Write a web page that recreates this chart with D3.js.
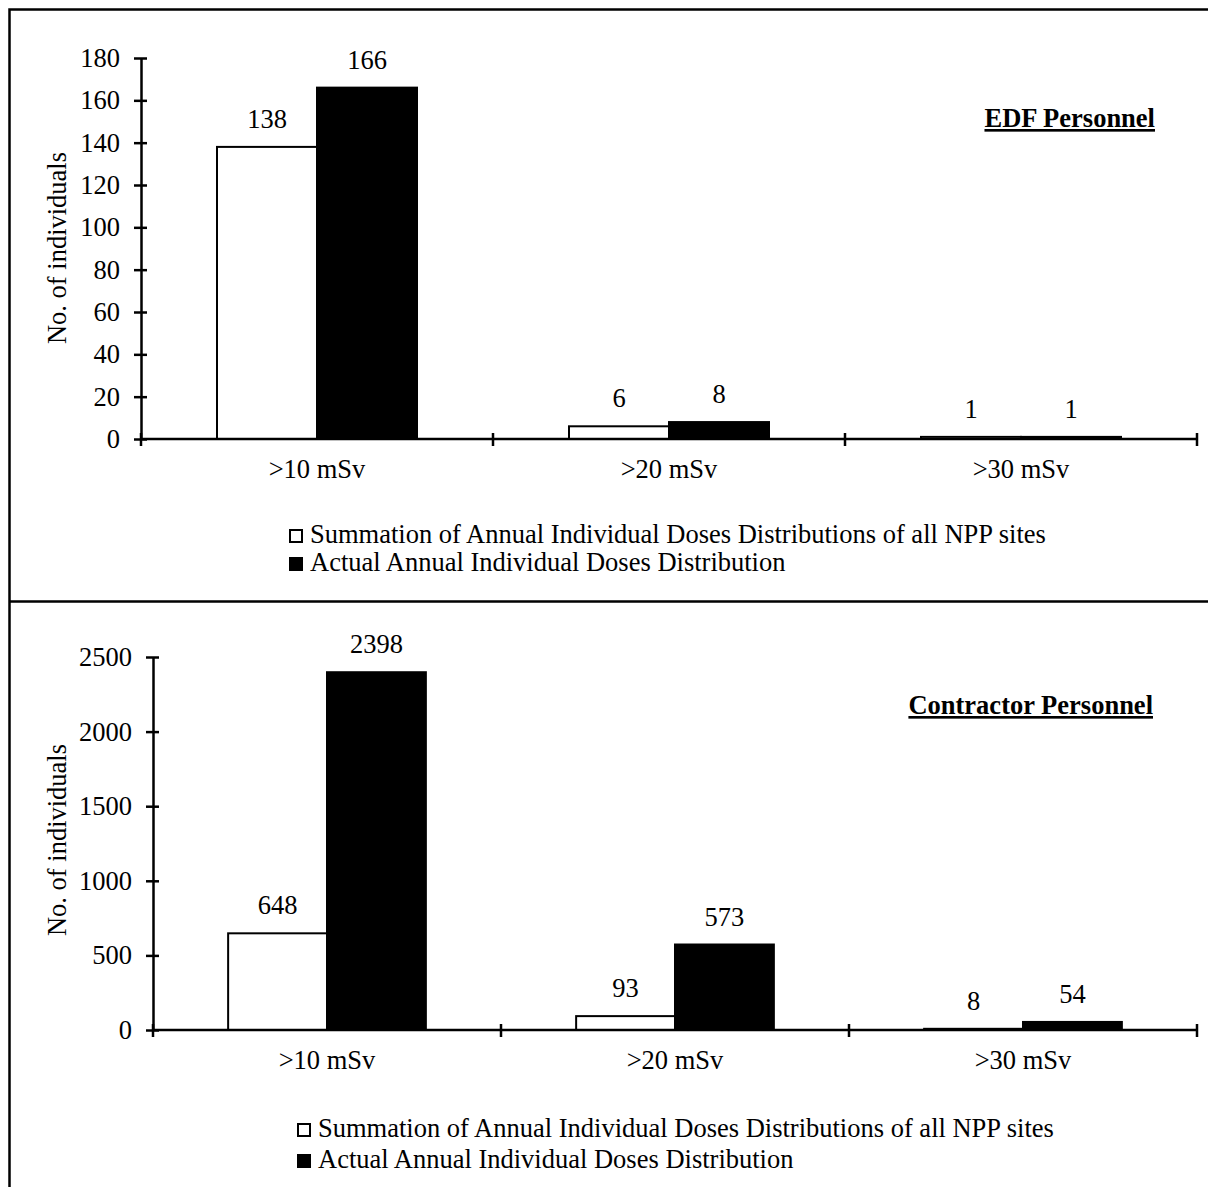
<!DOCTYPE html>
<html>
<head>
<meta charset="utf-8">
<script src="https://cdn.jsdelivr.net/npm/d3@7"></script>
<style>
  body { margin: 0; background: #fff; }
  text { font-family: "Liberation Serif", "Times New Roman", serif; fill: #000; }
</style>
</head>
<body>
<svg id="chart" width="1208" height="1187"></svg>
<script>
// categories and series
const categories = [">10 mSv", ">20 mSv", ">30 mSv"];
const seriesNames = [
    "Summation of Annual Individual Doses Distributions of all NPP sites",
    "Actual Annual Individual Doses Distribution"
];

// EDF personnel
const edfSummation = [138, 6, 1];
const edfActual = [166, 8, 1];
const edfTicks = [0, 20, 40, 60, 80, 100, 120, 140, 160, 180];

// Contractor personnel
const contractorSummation = [648, 93, 8];
const contractorActual = [2398, 573, 54];
const contractorTicks = [0, 500, 1000, 1500, 2000, 2500];

const svg = d3.select("#chart");
const fontSize = 26.5;

// frame: outer border + divider
svg.append("rect").attr("width", 1208).attr("height", 1187).attr("fill", "white");
svg.append("path")
    .attr("d", "M9.5,1187 V9.5 H1208 M9.5,601.5 H1208")
    .attr("fill", "none")
    .attr("stroke", "black")
    .attr("stroke-width", 2.5);

function drawPanel(opt) {
    const g = svg.append("g");

    const x = d3.scaleBand()
        .domain(categories)
        .range([opt.left, opt.right]);

    // two bars of ~100px inside each band, centered
    const x1 = d3.scaleBand()
        .domain([0, 1])
        .range([0, x.bandwidth()])
        .paddingOuter(0.76);

    const y = d3.scaleLinear()
        .domain([0, opt.ticks[opt.ticks.length - 1]])
        .range([opt.bottom, opt.top]);

    // y axis
    const yAxis = g.append("g")
        .attr("transform", `translate(${opt.left},0)`)
        .call(d3.axisLeft(y).tickValues(opt.ticks).tickFormat(d3.format("d"))
            .tickSize(7).tickPadding(14).tickSizeOuter(0));
    yAxis.select(".domain").attr("stroke-width", 2.5);
    yAxis.selectAll(".tick line").attr("x1", 6).attr("stroke-width", 2.5);
    yAxis.selectAll(".tick text")
        .style("font-size", fontSize + "px")
        .attr("fill", "black");

    // bars
    const rows = categories.map((c, i) => ({ cat: c, vals: [opt.summation[i], opt.actual[i]] }));
    const groups = g.selectAll("g.cat")
        .data(rows)
        .enter()
        .append("g")
        .attr("class", "cat")
        .attr("transform", d => `translate(${x(d.cat)},0)`);

    groups.selectAll("rect")
        .data(d => d.vals.map((v, k) => ({ k: k, v: v })))
        .enter()
        .append("rect")
        .attr("x", d => x1(d.k))
        .attr("width", x1.bandwidth())
        .attr("y", d => y(d.v))
        .attr("height", d => y(0) - y(d.v))
        .attr("fill", d => d.k === 0 ? "white" : "black")
        .attr("stroke", "black")
        .attr("stroke-width", 2);

    // value labels
    groups.selectAll("text.val")
        .data(d => d.vals.map((v, k) => ({ k: k, v: v })))
        .enter()
        .append("text")
        .attr("class", "val")
        .attr("x", d => x1(d.k) + x1.bandwidth() / 2)
        .attr("y", d => y(d.v) - 19)
        .attr("text-anchor", "middle")
        .style("font-size", fontSize + "px")
        .text(d => d.v);

    // x axis: line, ticks on band boundaries, labels in centers
    g.append("line")
        .attr("x1", opt.left).attr("x2", opt.right)
        .attr("y1", y(0)).attr("y2", y(0))
        .attr("stroke", "black").attr("stroke-width", 2.5);

    const bounds = categories.map(c => x(c)).concat([opt.right]);
    g.selectAll("line.xtick")
        .data(bounds)
        .enter()
        .append("line")
        .attr("class", "xtick")
        .attr("x1", d => d).attr("x2", d => d)
        .attr("y1", y(0) - 6).attr("y2", y(0) + 7)
        .attr("stroke", "black").attr("stroke-width", 2.5);

    g.selectAll("text.xlab")
        .data(categories)
        .enter()
        .append("text")
        .attr("class", "xlab")
        .attr("x", d => x(d) + x.bandwidth() / 2)
        .attr("y", y(0) + 39)
        .attr("text-anchor", "middle")
        .style("font-size", fontSize + "px")
        .text(d => d);

    // y axis title
    g.append("text")
        .attr("transform", `translate(66,${opt.labelY}) rotate(-90)`)
        .attr("text-anchor", "middle")
        .style("font-size", fontSize + "px")
        .text("No. of individuals");

    // panel title
    g.append("text")
        .attr("x", opt.titleX)
        .attr("y", opt.titleY)
        .attr("text-anchor", "end")
        .style("font-size", fontSize + "px")
        .style("font-weight", "bold")
        .style("text-decoration", "underline")
        .text(opt.title);

    // legend
    const legend = g.selectAll("g.legend")
        .data(seriesNames)
        .enter()
        .append("g")
        .attr("class", "legend")
        .attr("transform", (d, i) => `translate(${opt.legendX},${opt.legendY + i * opt.legendStep})`);

    legend.append("rect")
        .attr("x", 0).attr("y", -13)
        .attr("width", 12).attr("height", 12)
        .attr("fill", (d, i) => i === 0 ? "white" : "black")
        .attr("stroke", "black")
        .attr("stroke-width", 2);

    legend.append("text")
        .attr("x", 20)
        .attr("y", 0)
        .style("font-size", fontSize + "px")
        .text(d => d);
}

drawPanel({
    left: 141, right: 1197, top: 58, bottom: 439,
    ticks: edfTicks, summation: edfSummation, actual: edfActual,
    labelY: 248, title: "EDF Personnel", titleX: 1155, titleY: 127,
    legendX: 290, legendY: 543, legendStep: 28
});

drawPanel({
    left: 153, right: 1197, top: 657, bottom: 1030,
    ticks: contractorTicks, summation: contractorSummation, actual: contractorActual,
    labelY: 840, title: "Contractor Personnel", titleX: 1153, titleY: 714,
    legendX: 298, legendY: 1137, legendStep: 31
});
</script>
</body>
</html>
